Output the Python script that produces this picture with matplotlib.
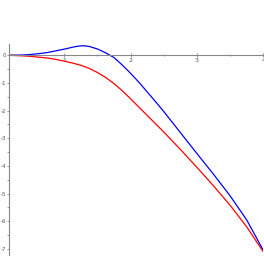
import matplotlib
matplotlib.use('Agg')
import matplotlib.pyplot as plt
from matplotlib.ticker import MultipleLocator

# values
x_red = [0.17, 0.375, 0.5, 0.625, 0.75, 0.875, 1.0, 1.125, 1.25, 1.375, 1.5, 1.625, 1.75,
         1.875, 2.0, 2.125, 2.25, 2.5, 2.75, 3.0, 3.25, 3.5, 3.75, 4.0]
y_red = [0.0, -0.02, -0.04, -0.07, -0.10, -0.15, -0.21, -0.28, -0.36, -0.47, -0.62, -0.80, -1.02,
         -1.28, -1.57, -1.87, -2.17, -2.77, -3.40, -4.05, -4.72, -5.42, -6.20, -7.10]

x_blue = [0.17, 0.375, 0.5, 0.625, 0.75, 0.875, 1.0, 1.125, 1.1875, 1.25, 1.3125, 1.375, 1.5,
          1.625, 1.75, 1.875, 2.0, 2.125, 2.25, 2.375, 2.5, 2.75, 3.0, 3.25, 3.5, 3.75, 4.0]
y_blue = [0.0, 0.01, 0.03, 0.06, 0.10, 0.16, 0.22, 0.29, 0.32, 0.34, 0.34, 0.32, 0.23,
          0.09, -0.08, -0.35, -0.65, -0.97, -1.32, -1.67, -2.03, -2.79, -3.55, -4.30, -5.08, -5.95,
          -7.05]

xticks = [1, 2, 3, 4]
yticks = [0, -1, -2, -3, -4, -5, -6, -7]

fig = plt.figure(figsize=(2.64, 2.65), dpi=100)
ax = fig.add_axes([9 / 264, 0.0396, 254.3 / 264, 0.7936])

ax.plot(x_blue, y_blue, color='#0000ff', lw=0.9)
ax.plot(x_red, y_red, color='#ff0000', lw=0.9)

ax.set_xlim(0.17, 4.0)
ax.set_ylim(-7.2, 0.4)

for s in ['top', 'right']:
    ax.spines[s].set_visible(False)
ax.spines['bottom'].set_position(('data', 0))
for s in ['left', 'bottom']:
    ax.spines[s].set_color('#888888')
    ax.spines[s].set_linewidth(0.8)

ax.set_xticks(xticks)
ax.set_xticklabels([str(v) for v in xticks])
ax.set_yticks(yticks)
ax.set_yticklabels([str(v) for v in yticks])
ax.xaxis.set_minor_locator(MultipleLocator(0.5))
ax.yaxis.set_minor_locator(MultipleLocator(0.5))
ax.tick_params(which='major', length=2.5, width=0.6, color='#888888',
               labelsize=4.5, labelcolor='#555555', pad=1)
ax.tick_params(which='minor', length=1.5, width=0.6, color='#888888')
ax.tick_params(axis='x', which='both', direction='inout')
ax.tick_params(axis='y', which='major', length=1.5, labelsize=4, pad=0.3)

fig.savefig('out.png', dpi=100)
